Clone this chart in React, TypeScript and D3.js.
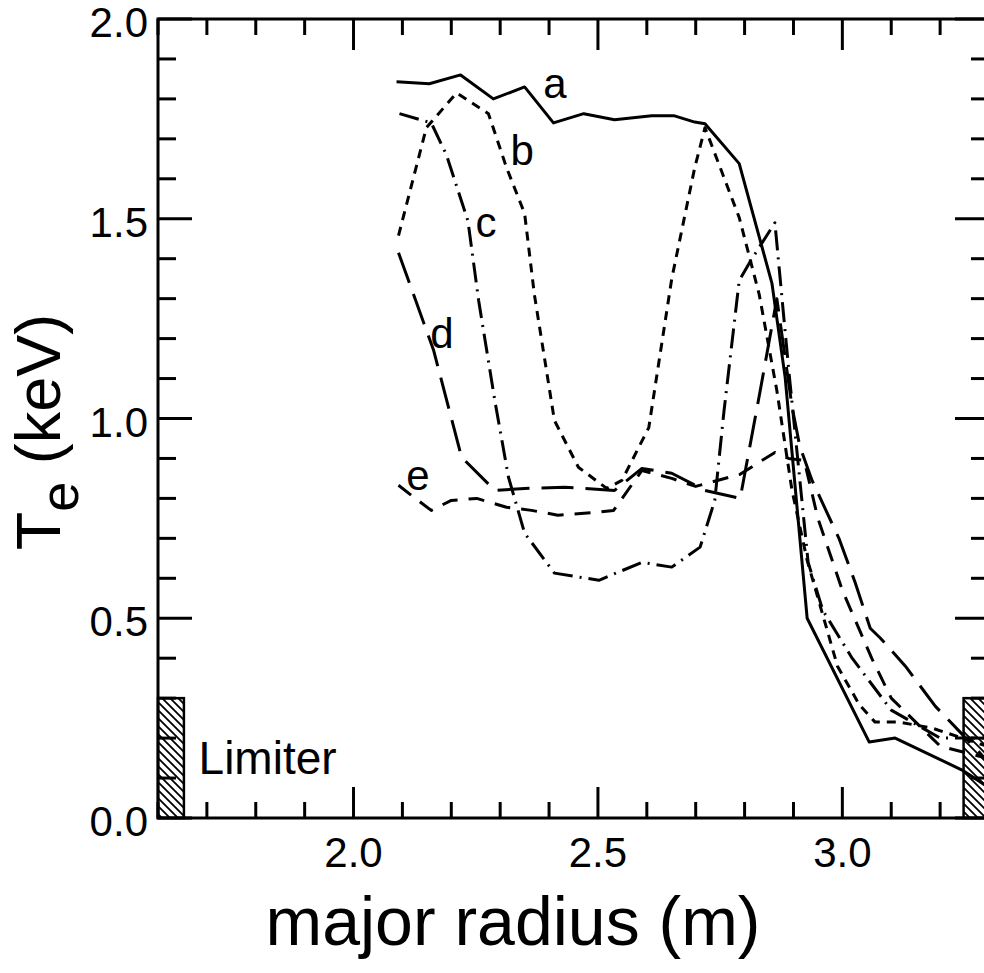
import React from 'react';
import * as d3 from 'd3';

const W = 984;
const H = 973;

const xDomain: [number, number] = [1.6, 3.3];
const yDomain: [number, number] = [0, 2];
const xMajorTicks = [2.0, 2.5, 3.0];
const xTickLabels = ['2.0', '2.5', '3.0'];
const yMajorTicks = [0, 0.5, 1.0, 1.5, 2.0];
const yTickLabels = ['0.0', '0.5', '1.0', '1.5', '2.0'];

// curve a (solid)
const aR = [2.088, 2.155, 2.219, 2.286, 2.350, 2.409, 2.471, 2.534, 2.610, 2.655, 2.698, 2.719, 2.789, 2.856, 2.883, 2.928, 3.055, 3.108, 3.245, 3.295];
const aTe = [1.843, 1.838, 1.860, 1.800, 1.830, 1.740, 1.763, 1.748, 1.758, 1.758, 1.742, 1.738, 1.638, 1.338, 1.103, 0.50, 0.19, 0.20, 0.12, 0.08];

// curve b (short dash)
const bR = [2.092, 2.149, 2.211, 2.276, 2.313, 2.350, 2.370, 2.411, 2.460, 2.518, 2.549, 2.604, 2.651, 2.698, 2.719, 2.789, 2.830, 2.866, 2.897, 2.928, 2.990, 3.035, 3.067, 3.116, 3.184, 3.295];
const bTe = [1.458, 1.728, 1.815, 1.763, 1.628, 1.513, 1.31, 0.995, 0.878, 0.825, 0.845, 0.977, 1.35, 1.628, 1.728, 1.503, 1.31, 1.07, 0.82, 0.645, 0.38, 0.283, 0.24, 0.24, 0.225, 0.18];

// curve c (dash-dot)
const cR = [2.094, 2.159, 2.190, 2.234, 2.256, 2.289, 2.317, 2.350, 2.411, 2.502, 2.590, 2.651, 2.709, 2.739, 2.758, 2.789, 2.815, 2.862, 2.891, 2.930, 2.960, 3.020, 3.100, 3.200, 3.295];
const cTe = [1.763, 1.740, 1.660, 1.495, 1.295, 1.045, 0.853, 0.713, 0.613, 0.595, 0.640, 0.628, 0.678, 0.795, 1.020, 1.345, 1.400, 1.490, 1.113, 0.640, 0.520, 0.400, 0.270, 0.200, 0.200];

// curve d (long dash)
const dR = [2.092, 2.164, 2.221, 2.289, 2.350, 2.432, 2.534, 2.590, 2.651, 2.719, 2.791, 2.832, 2.866, 2.897, 2.913, 2.938, 2.993, 3.026, 3.057, 3.078, 3.129, 3.190, 3.241, 3.295];
const dTe = [1.415, 1.170, 0.903, 0.820, 0.825, 0.828, 0.820, 0.875, 0.863, 0.820, 0.800, 1.070, 1.300, 1.030, 0.930, 0.845, 0.700, 0.590, 0.475, 0.450, 0.380, 0.280, 0.215, 0.145];

// curve e (medium dash)
const eR = [2.092, 2.118, 2.159, 2.200, 2.252, 2.313, 2.364, 2.418, 2.493, 2.532, 2.590, 2.651, 2.700, 2.790, 2.862, 2.890, 2.922, 2.950, 3.000, 3.060, 3.100, 3.200, 3.295];
const eTe = [0.833, 0.808, 0.770, 0.795, 0.800, 0.778, 0.770, 0.758, 0.765, 0.770, 0.870, 0.850, 0.830, 0.860, 0.915, 0.900, 0.895, 0.750, 0.570, 0.400, 0.300, 0.180, 0.150];

const curveNames = ['a', 'b', 'c', 'd', 'e'];
const curveLabelR = [2.412, 2.345, 2.271, 2.181, 2.132];
const curveLabelTe = [1.802, 1.635, 1.454, 1.176, 0.821];

const limiterLeft = [1.6, 1.653];
const limiterRight = [3.248, 3.3];
const limiterHeight = 0.3;

const FONT = "'Liberation Sans', Arial, Helvetica, sans-serif";

export default function App() {
  const x = d3.scaleLinear().domain(xDomain).range([158, 989]);
  const y = d3.scaleLinear().domain(yDomain).range([818, 19]);
  const line = d3.line<[number, number]>().x(d => x(d[0])).y(d => y(d[1]));

  const series = [
    { R: aR, T: aTe, dash: undefined },
    { R: bR, T: bTe, dash: '9,7' },
    { R: cR, T: cTe, dash: '20,7,2,7' },
    { R: dR, T: dTe, dash: '32,12' },
    { R: eR, T: eTe, dash: '16,11' },
  ];

  const xMinor = d3.ticks(xDomain[0], xDomain[1], 17).filter(v => !xMajorTicks.some(m => Math.abs(m - v) < 1e-6));
  const yMinor = d3.ticks(yDomain[0], yDomain[1], 20).filter(v => !yMajorTicks.some(m => Math.abs(m - v) < 1e-6));

  const x0 = x(xDomain[0]);
  const x1 = x(xDomain[1]);
  const y0 = y(yDomain[0]);
  const y1 = y(yDomain[1]);

  return (
    <svg width={W} height={H} style={{ position: 'absolute', left: 0, top: 0, background: '#fff' }}>
      <defs>
        <pattern id="hatch" patternUnits="userSpaceOnUse" width="8" height="8">
          <path d="M-2,-2 L10,10 M-2,6 L2,10 M6,-2 L10,2" stroke="#000" strokeWidth="1.8" />
        </pattern>
        <clipPath id="plotClip">
          <rect x={x0} y={y1} width={x1 - x0} height={y0 - y1} />
        </clipPath>
      </defs>
      <rect x={0} y={0} width={W} height={H} fill="#fff" />

      {/* limiters */}
      {[limiterLeft, limiterRight].map((lim, i) => (
        <rect key={i} x={x(lim[0])} y={y(limiterHeight)} width={x(lim[1]) - x(lim[0])} height={y(0) - y(limiterHeight)}
          fill="url(#hatch)" stroke="#000" strokeWidth={2.5} />
      ))}
      <text x={x(1.683)} y={y(0.11)} fontFamily={FONT} fontSize={46} fill="#000">Limiter</text>

      {/* curves */}
      <g clipPath="url(#plotClip)">
        {series.map((s, i) => (
          <path key={i} d={line(s.R.map((r, j) => [r, s.T[j]] as [number, number])) || ''}
            fill="none" stroke="#000" strokeWidth={3} strokeDasharray={s.dash} strokeLinejoin="round" />
        ))}
      </g>
      {curveNames.map((n, i) => (
        <text key={n} x={x(curveLabelR[i])} y={y(curveLabelTe[i])} textAnchor="middle" fontFamily={FONT} fontSize={42} fill="#000">{n}</text>
      ))}

      {/* frame */}
      <rect x={x0} y={y1} width={x1 - x0} height={y0 - y1} fill="none" stroke="#000" strokeWidth={3} />

      {/* x ticks bottom & top */}
      {xMajorTicks.map(v => (
        <g key={'xm' + v}>
          <line x1={x(v)} x2={x(v)} y1={y0} y2={y0 - 31} stroke="#000" strokeWidth={3} />
          <line x1={x(v)} x2={x(v)} y1={y1} y2={y1 + 31} stroke="#000" strokeWidth={3} />
        </g>
      ))}
      {xMinor.map(v => (
        <g key={'xn' + v}>
          <line x1={x(v)} x2={x(v)} y1={y0} y2={y0 - 16} stroke="#000" strokeWidth={3} />
          <line x1={x(v)} x2={x(v)} y1={y1} y2={y1 + 16} stroke="#000" strokeWidth={3} />
        </g>
      ))}
      {/* y ticks left & right */}
      {yMajorTicks.map(v => (
        <g key={'ym' + v}>
          <line x1={x0} x2={x0 + 34} y1={y(v)} y2={y(v)} stroke="#000" strokeWidth={3} />
          <line x1={x1} x2={x1 - 34} y1={y(v)} y2={y(v)} stroke="#000" strokeWidth={3} />
        </g>
      ))}
      {yMinor.map(v => (
        <g key={'yn' + v}>
          <line x1={x0} x2={x0 + 18} y1={y(v)} y2={y(v)} stroke="#000" strokeWidth={3} />
          <line x1={x1} x2={x1 - 18} y1={y(v)} y2={y(v)} stroke="#000" strokeWidth={3} />
        </g>
      ))}

      {/* tick labels */}
      {xMajorTicks.map((v, i) => (
        <text key={'xl' + v} x={x(v)} y={867} textAnchor="middle" fontFamily={FONT} fontSize={42} fill="#000">{xTickLabels[i]}</text>
      ))}
      {yMajorTicks.map((v, i) => (
        <text key={'yl' + v} x={148} y={y(v) + 18} textAnchor="end" fontFamily={FONT} fontSize={42} fill="#000">{yTickLabels[i]}</text>
      ))}

      {/* axis titles */}
      <text x={513} y={945} textAnchor="middle" fontFamily={FONT} fontSize={68} fill="#000">major radius (m)</text>
      <text transform={`translate(60,${432}) rotate(-90)`} textAnchor="middle" fontFamily={FONT} fontSize={63} fill="#000">
        T<tspan fontSize={54} dy={18}>e</tspan><tspan dy={-18}> (keV)</tspan>
      </text>
    </svg>
  );
}
